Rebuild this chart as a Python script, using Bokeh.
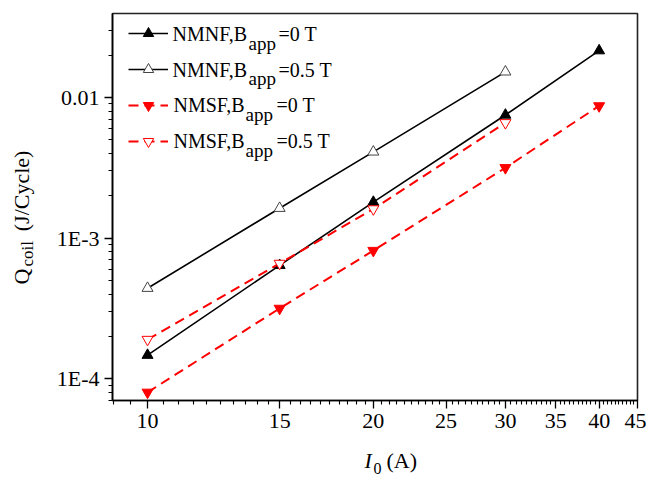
import math
from bokeh.plotting import figure
from bokeh.models import (Range1d, FixedTicker, CustomJSTickFormatter, Label,
                          Legend, LegendItem)
from bokeh.core.properties import value
from bokeh.embed import file_html
from bokeh.resources import INLINE

# Coil loss per cycle vs. coil current amplitude
current_nmnf_0 = [10, 15, 20, 30, 40]
q_nmnf_0 = [1.47e-4, 6.4e-4, 1.8e-3, 7.5e-3, 2.15e-2]

current_nmnf_05 = [10, 15, 20, 30]
q_nmnf_05 = [4.4e-4, 1.63e-3, 4.1e-3, 1.52e-2]

current_nmsf_0 = [10, 15, 20, 30, 40]
q_nmsf_0 = [8.0e-5, 3.16e-4, 8.15e-4, 3.16e-3, 8.7e-3]

current_nmsf_05 = [10, 15, 20, 30]
q_nmsf_05 = [1.9e-4, 6.6e-4, 1.61e-3, 6.6e-3]

x_major_ticks = [10, 15, 20, 25, 30, 35, 40, 45]
y_major_ticks = [1e-4, 1e-3, 1e-2]
y_tick_labels = ["1E-4", "1E-3", "0.01"]

legend_names = ["NMNF,B", "NMNF,B", "NMSF,B", "NMSF,B"]
legend_sub = "app"
legend_fields = ["=0 T", "=0.5 T", "=0 T", "=0.5 T"]

FONT = "Liberation Serif"
BLACK = "#000000"
RED = "#ff0000"

FRAME_LEFT, FRAME_BOTTOM = 112, 400

p = figure(width=646, height=480, x_axis_type="log", y_axis_type="log",
           x_range=Range1d(8.98, 45), y_range=Range1d(7.0e-5, 0.0395),
           min_border_left=FRAME_LEFT, min_border_right=9,
           min_border_top=13, min_border_bottom=480 - FRAME_BOTTOM,
           output_backend="svg", toolbar_location=None)

p.background_fill_color = "white"
p.border_fill_color = "white"
p.xgrid.grid_line_color = None
p.ygrid.grid_line_color = None
p.outline_line_color = "#222222"
p.outline_line_width = 1.6

# x axis: plain numeric labels on a log scale
x_minor = [m / 2 for m in range(18, 91) if (m / 2) not in x_major_ticks]
p.xaxis.ticker = FixedTicker(ticks=x_major_ticks, minor_ticks=x_minor)
p.xaxis.formatter = CustomJSTickFormatter(code="return String(Math.round(tick));")

y_minor = [k * 10.0 ** e for e in range(-5, -1) for k in range(2, 10)]
p.yaxis.ticker = FixedTicker(ticks=y_major_ticks, minor_ticks=y_minor)
p.yaxis.formatter = CustomJSTickFormatter(
    args=dict(major_vals=y_major_ticks, major_text=y_tick_labels),
    code="""
    for (let i = 0; i < major_vals.length; i++) {
        if (Math.abs(Math.log10(tick) - Math.log10(major_vals[i])) < 1e-6) return major_text[i];
    }
    return "";
    """)

for ax in (p.xaxis[0], p.yaxis[0]):
    ax.axis_line_color = BLACK
    ax.axis_line_width = 1.6
    ax.major_tick_line_color = BLACK
    ax.minor_tick_line_color = BLACK
    ax.major_tick_line_width = 1.3
    ax.minor_tick_line_width = 1.1
    ax.major_tick_in = 0
    ax.major_tick_out = 8
    ax.minor_tick_in = 0
    ax.minor_tick_out = 4
    ax.major_label_text_font = FONT
    ax.major_label_text_font_size = "22px"
    ax.major_label_text_color = BLACK
p.xaxis.major_label_standoff = 5
p.yaxis.major_label_standoff = 5

# series
l1 = p.line(current_nmnf_0, q_nmnf_0, line_color=BLACK, line_width=1.6)
s1 = p.scatter(current_nmnf_0, q_nmnf_0, marker="triangle", size=11,
               fill_color=BLACK, line_color=BLACK, line_width=1)

l2 = p.line(current_nmnf_05, q_nmnf_05, line_color=BLACK, line_width=1.6)
s2 = p.scatter(current_nmnf_05, q_nmnf_05, marker="triangle", size=11,
               fill_color="white", line_color="#444444", line_width=1)

l3 = p.line(current_nmsf_0, q_nmsf_0, line_color=RED, line_width=2,
            line_dash="10 6")
s3 = p.scatter(current_nmsf_0, q_nmsf_0, marker="inverted_triangle", size=11,
               fill_color=RED, line_color=RED, line_width=1)

l4 = p.line(current_nmsf_05, q_nmsf_05, line_color=RED, line_width=2,
            line_dash="10 6")
s4 = p.scatter(current_nmsf_05, q_nmsf_05, marker="inverted_triangle", size=11,
               fill_color="white", line_color=RED, line_width=1)

# legend samples (text is drawn separately to allow subscripts)
legend = Legend(
    items=[LegendItem(label=value(" "), renderers=[l, s])
           for l, s in ((l1, s1), (l2, s2), (l3, s3), (l4, s4))],
    location=(16, 246), glyph_width=40, glyph_height=26, spacing=10,
    padding=0, margin=0, label_height=26, label_width=0, label_standoff=0,
    label_text_font_size="1px", label_text_alpha=0,
    border_line_color=None, background_fill_alpha=0)
p.add_layout(legend)


def frame_text(text, cx, cy, size, style="normal"):
    """Text inside the frame; (cx, cy) is the canvas pixel of its left middle."""
    p.add_layout(Label(x=cx - FRAME_LEFT, y=FRAME_BOTTOM - cy,
                       x_units="screen", y_units="screen", text=text,
                       text_font=FONT, text_font_size=f"{size}px",
                       text_font_style=style, text_color=BLACK,
                       text_align="left", text_baseline="middle"))


def margin_text(text, cx, cy, size, place, angle=0.0, style="normal"):
    """Axis-title text in the margins, placed in canvas pixels (left middle)."""
    lab = Label(x=cx, y=cy, x_units="canvas", y_units="canvas", text=text,
                text_font=FONT, text_font_size=f"{size}px",
                text_font_style=style, text_color=BLACK,
                text_align="left", text_baseline="middle",
                angle=angle)
    p.add_layout(lab, place)


row_centers = [33.5, 69.2, 104.9, 140.6]
name_x = [172, 172, 173, 173]
sub_x = [248, 248, 245, 245]
field_x = [278, 278, 276, 276]
for i in range(4):
    yc = row_centers[i]
    frame_text(legend_names[i], name_x[i], yc, 20)
    frame_text(legend_sub, sub_x[i], yc + 9, 19)
    frame_text(legend_fields[i], field_x[i], yc, 20)

# y axis title: Q_coil (J/Cycle), rotated; the gap leaves room for the subscript
rot = math.pi / 2
margin_text("Q\u2003\u2002\u2009(J/Cycle)", 21, 284, 22, "left", angle=rot)
margin_text("coil", 27, 266, 17, "left", angle=rot)

# x axis title: I_0 (A)
margin_text("I", 364, 459.5, 22, "below", style="italic")
margin_text("0", 373, 468, 16, "left")
margin_text("(A)", 386, 459.5, 22, "below")

open("out.html", "w").write(file_html(p, INLINE))
